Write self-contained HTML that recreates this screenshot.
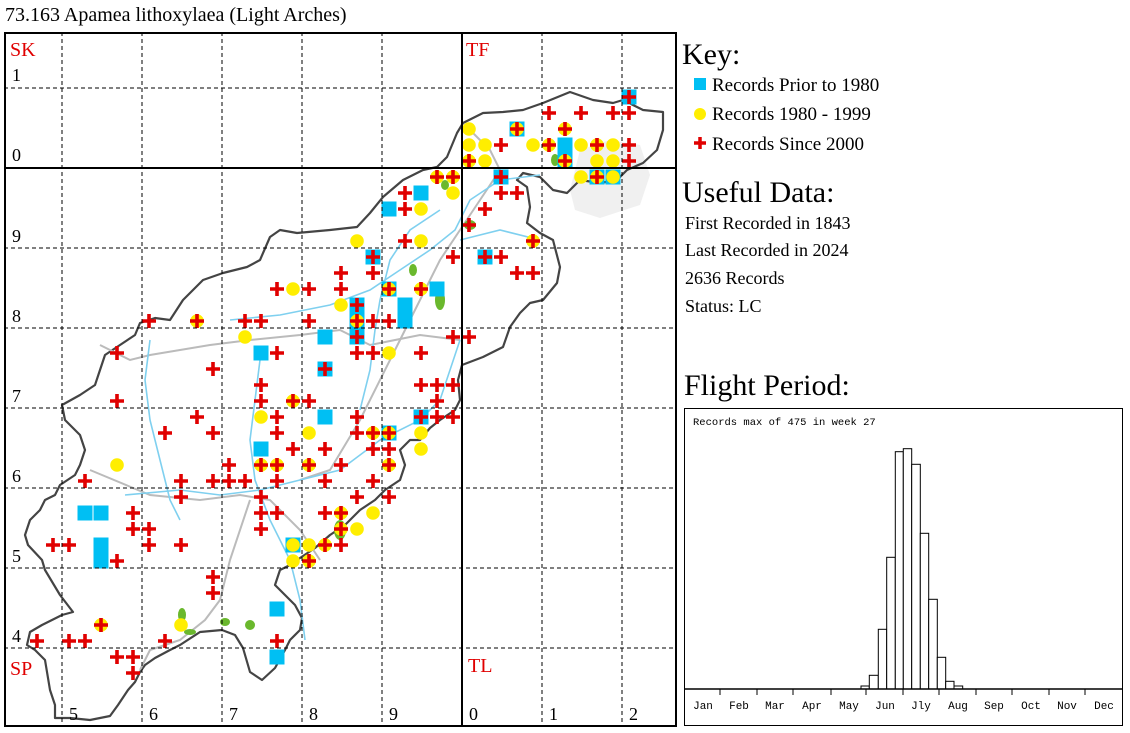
<!DOCTYPE html>
<html><head><meta charset="utf-8"><style>
html,body{margin:0;padding:0;background:#fff;}
svg{display:block;}
.s{font-family:"Liberation Serif",serif;}
.m{font-family:"Liberation Mono",monospace;}
</style></head><body>
<svg id="sv" width="1130" height="733" viewBox="0 0 1130 733" xmlns="http://www.w3.org/2000/svg">
<rect width="1130" height="733" fill="#fff"/>
<text x="5" y="21" class="s" font-size="20" fill="#000">73.163 Apamea lithoxylaea (Light Arches)</text>
<polygon fill="#f0f0f0" points="580,150 610,140 640,145 650,175 640,205 600,218 575,210 570,190"/>
<polygon fill="#fff" fill-opacity="0" stroke="#444" stroke-width="2.2" stroke-linejoin="round" points="28,545 42,560 45,570 60,595 73,612 62,615 42,625 30,632 27,645 35,650 45,660 50,690 55,705 55,718 70,718 90,720 110,716 118,705 128,690 135,682 140,672 145,665 155,658 170,650 180,645 200,632 222,630 235,635 243,648 250,672 262,680 275,668 285,650 290,640 300,630 302,618 295,605 285,595 275,585 280,570 290,565 300,558 315,548 330,535 345,525 360,510 375,500 385,490 400,480 405,465 400,450 410,440 420,440 430,428 440,420 455,410 460,400 458,380 462,365 483,357 503,347 510,327 520,313 530,303 543,300 557,283 560,267 553,240 540,233 527,223 530,207 527,187 517,180 523,173 540,177 553,190 567,193 580,180 600,183 617,180 627,170 643,163 657,150 663,130 663,112 643,110 623,100 613,103 593,100 570,92 543,103 523,110 503,112 483,113 463,123 457,133 447,157 437,167 423,170 403,180 383,197 370,213 357,227 330,230 297,233 280,230 270,237 260,260 247,267 223,273 203,280 183,300 170,320 155,318 140,323 135,335 120,345 105,355 100,370 95,385 80,395 62,405 65,420 80,435 85,450 80,465 75,475 60,485 55,495 45,500 40,510 30,520 25,535"/>
<g fill="none" stroke="#bbb" stroke-width="2">
<path d="M100,345 L130,360 150,355 210,345 250,340 300,335 340,330 370,345 420,335 460,340"/>
<path d="M90,470 L150,495 200,500 240,495 270,500 300,530 320,560"/>
<path d="M250,500 L230,560 220,600 205,620 180,640 150,650 140,670"/>
<path d="M470,130 L490,150 500,170 480,200 460,230 440,260 420,300 400,340 380,380 360,420 330,470 300,480"/>
</g>
<g fill="none" stroke="#7fd0ef" stroke-width="1.6">
<path d="M150,340 L145,380 150,420 160,460 170,500 180,520"/>
<path d="M125,495 L180,490 220,495 260,490 300,480 340,470 380,440 420,420 440,400 450,370 460,340"/>
<path d="M260,360 L255,400 250,440 255,480 270,520 290,560 300,600 305,640"/>
<path d="M230,320 L280,315 330,305 370,290 400,270 430,250 455,230 470,200 500,180 540,175"/>
<path d="M360,410 L370,370 375,330 380,300 390,260 410,230 440,210"/>
<path d="M460,240 L500,230 540,240"/>
</g>
<g fill="#6ab82d">
<ellipse cx="440" cy="300" rx="5" ry="10"/><ellipse cx="413" cy="270" rx="4" ry="6"/><ellipse cx="470" cy="225" rx="6" ry="5"/>
<ellipse cx="340" cy="530" rx="6" ry="10"/><ellipse cx="182" cy="615" rx="4" ry="7"/><ellipse cx="190" cy="632" rx="6" ry="3"/>
<ellipse cx="225" cy="622" rx="5" ry="4"/><ellipse cx="250" cy="625" rx="5" ry="5"/><ellipse cx="445" cy="185" rx="4" ry="5"/><ellipse cx="555" cy="160" rx="4" ry="6"/>
</g>
<g id="mk"></g>
<g stroke="#000" stroke-width="1" stroke-dasharray="4,3">
<line x1="62" y1="32" x2="62" y2="727"/><line x1="142" y1="32" x2="142" y2="727"/><line x1="222" y1="32" x2="222" y2="727"/><line x1="302" y1="32" x2="302" y2="727"/><line x1="382" y1="32" x2="382" y2="727"/><line x1="542" y1="32" x2="542" y2="727"/><line x1="622" y1="32" x2="622" y2="727"/>
<line x1="4" y1="88" x2="677" y2="88"/><line x1="4" y1="248" x2="677" y2="248"/><line x1="4" y1="328" x2="677" y2="328"/><line x1="4" y1="408" x2="677" y2="408"/><line x1="4" y1="488" x2="677" y2="488"/><line x1="4" y1="568" x2="677" y2="568"/><line x1="4" y1="648" x2="677" y2="648"/>
</g>
<line x1="462" y1="32" x2="462" y2="727" stroke="#000" stroke-width="2"/>
<line x1="4" y1="168" x2="677" y2="168" stroke="#000" stroke-width="2"/>
<rect x="5" y="33" width="671" height="693" fill="none" stroke="#000" stroke-width="2"/>
<g class="s" font-size="20" fill="#e00000">
<text x="10" y="56">SK</text><text x="466" y="56">TF</text><text x="10" y="675">SP</text><text x="468" y="672">TL</text>
</g>
<g class="s" font-size="18" fill="#000">
<text x="12" y="81">1</text><text x="12" y="161">0</text><text x="12" y="242">9</text><text x="12" y="322">8</text><text x="12" y="402">7</text><text x="12" y="482">6</text><text x="12" y="562">5</text><text x="12" y="642">4</text>
<text x="69" y="720">5</text><text x="149" y="720">6</text><text x="229" y="720">7</text><text x="309" y="720">8</text><text x="389" y="720">9</text><text x="469" y="720">0</text><text x="549" y="720">1</text><text x="629" y="720">2</text>
</g>
<g class="s" fill="#000">
<text x="682" y="64" font-size="30">Key:</text>
<rect x="694" y="78" width="12" height="12" fill="#00bff3"/>
<text x="712" y="91" font-size="19">Records Prior to 1980</text>
<circle cx="700" cy="114" r="6" fill="#ffee00"/>
<text x="712" y="120" font-size="19">Records 1980 - 1999</text>
<path d="M694,143 h12 M700,137 v12" stroke="#e00000" stroke-width="3.5"/>
<text x="712" y="150" font-size="19">Records Since 2000</text>
<text x="682" y="202" font-size="30">Useful Data:</text>
<text x="685" y="229" font-size="18">First Recorded in 1843</text>
<text x="685" y="256" font-size="18">Last Recorded in 2024</text>
<text x="685" y="284" font-size="18">2636 Records</text>
<text x="685" y="312" font-size="18">Status: LC</text>
<text x="684" y="395" font-size="30">Flight Period:</text>
</g>
<rect x="684.5" y="408.5" width="438" height="317" fill="#fff" stroke="#000" stroke-width="1"/>
<text x="693" y="425" class="m" font-size="10.5" fill="#000">Records max of 475 in week 27</text>
<g fill="#fff" stroke="#000" stroke-width="1">
<rect x="861" y="686" width="8.3" height="3"/>
<rect x="869.3" y="675.3" width="9" height="13.7"/>
<rect x="878.3" y="629.3" width="8.4" height="59.7"/>
<rect x="886.7" y="557.3" width="8.6" height="131.7"/>
<rect x="895.3" y="451.7" width="8" height="237.3"/>
<rect x="903.3" y="448.7" width="8.4" height="240.3"/>
<rect x="911.7" y="464.3" width="8.6" height="224.7"/>
<rect x="920.3" y="533.3" width="8.4" height="155.7"/>
<rect x="928.7" y="599.3" width="8.6" height="89.7"/>
<rect x="937.3" y="657.3" width="8.4" height="31.7"/>
<rect x="945.7" y="681.3" width="8.3" height="7.7"/>
<rect x="954" y="686" width="8.7" height="3"/>
</g>
<line x1="684" y1="689" x2="1123" y2="689" stroke="#000" stroke-width="1.5"/>
<g stroke="#000" stroke-width="1">
<line x1="720" y1="689" x2="720" y2="695"/><line x1="757" y1="689" x2="757" y2="695"/><line x1="793" y1="689" x2="793" y2="695"/><line x1="831" y1="689" x2="831" y2="695"/><line x1="866" y1="689" x2="866" y2="695"/><line x1="903" y1="689" x2="903" y2="695"/><line x1="939" y1="689" x2="939" y2="695"/><line x1="976" y1="689" x2="976" y2="695"/><line x1="1012" y1="689" x2="1012" y2="695"/><line x1="1049" y1="689" x2="1049" y2="695"/><line x1="1085" y1="689" x2="1085" y2="695"/>
</g>
<g class="m" font-size="11" fill="#000" text-anchor="middle">
<text x="703" y="709">Jan</text><text x="739" y="709">Feb</text><text x="775" y="709">Mar</text><text x="812" y="709">Apr</text><text x="849" y="709">May</text><text x="885" y="709">Jun</text><text x="921" y="709">Jly</text><text x="958" y="709">Aug</text><text x="994" y="709">Sep</text><text x="1031" y="709">Oct</text><text x="1067" y="709">Nov</text><text x="1104" y="709">Dec</text>
</g>
</svg>
<script>
var P=[[39,6,'bx'],[34,7,'x'],[36,7,'x'],[38,7,'x'],[39,7,'x'],
[29,8,'y'],[32,8,'byx'],[35,8,'yx'],
[29,9,'y'],[30,9,'y'],[31,9,'x'],[33,9,'y'],[34,9,'yx'],[36,9,'y'],[37,9,'yx'],[38,9,'y'],[39,9,'x'],
[29,10,'yx'],[30,10,'y'],[35,10,'yx'],[37,10,'y'],[38,10,'y'],[39,10,'x'],
[27,11,'yx'],[28,11,'yx'],[31,11,'bx'],[36,11,'y'],[37,11,'byx'],[38,11,'by'],
[25,12,'x'],[26,12,'b'],[28,12,'y'],[31,12,'x'],[32,12,'x'],
[24,13,'b'],[25,13,'x'],[26,13,'y'],[30,13,'x'],[29,14,'x'],
[22,15,'y'],[25,15,'x'],[26,15,'y'],[33,15,'yx'],
[23,16,'bx'],[28,16,'x'],[30,16,'bx'],[31,16,'x'],
[21,17,'x'],[23,17,'x'],[32,17,'x'],[33,17,'x'],
[17,18,'x'],[18,18,'y'],[19,18,'x'],[21,18,'x'],[24,18,'byx'],[26,18,'yx'],[27,18,'b'],
[21,19,'y'],[22,19,'x'],
[9,20,'x'],[12,20,'yx'],[15,20,'x'],[16,20,'x'],[19,20,'x'],[22,20,'yx'],[23,20,'x'],[24,20,'x'],
[15,21,'y'],[20,21,'b'],[22,21,'x'],[28,21,'x'],[29,21,'x'],
[7,22,'x'],[16,22,'b'],[17,22,'x'],[22,22,'x'],[23,22,'x'],[24,22,'y'],[26,22,'x'],
[13,23,'x'],[20,23,'bx'],
[16,24,'x'],[26,24,'x'],[27,24,'x'],[28,24,'x'],
[7,25,'x'],[16,25,'x'],[18,25,'yx'],[19,25,'x'],[27,25,'x'],
[12,26,'x'],[16,26,'y'],[17,26,'x'],[20,26,'b'],[22,26,'x'],[26,26,'bx'],[27,26,'x'],[28,26,'x'],
[10,27,'x'],[13,27,'x'],[17,27,'x'],[19,27,'y'],[22,27,'x'],[23,27,'yx'],[24,27,'byx'],[26,27,'y'],
[16,28,'b'],[18,28,'x'],[20,28,'x'],[23,28,'x'],[24,28,'x'],[26,28,'y'],
[7,29,'y'],[14,29,'x'],[16,29,'yx'],[17,29,'yx'],[19,29,'yx'],[21,29,'x'],[24,29,'yx'],
[5,30,'x'],[11,30,'x'],[13,30,'x'],[14,30,'x'],[15,30,'x'],[17,30,'x'],[20,30,'x'],[23,30,'x'],
[11,31,'x'],[16,31,'x'],[22,31,'x'],[24,31,'x'],
[5,32,'b'],[6,32,'b'],[8,32,'x'],[16,32,'x'],[17,32,'x'],[20,32,'x'],[21,32,'yx'],[23,32,'y'],
[8,33,'x'],[9,33,'x'],[16,33,'x'],[21,33,'yx'],[22,33,'y'],
[3,34,'x'],[4,34,'x'],[9,34,'x'],[11,34,'x'],[18,34,'by'],[19,34,'y'],[20,34,'yx'],[21,34,'x'],
[7,35,'x'],[18,35,'y'],[19,35,'yx'],
[13,36,'x'],[13,37,'x'],[17,38,'b'],[6,39,'yx'],[11,39,'y'],
[2,40,'x'],[4,40,'x'],[5,40,'x'],[10,40,'x'],[17,40,'x'],
[7,41,'x'],[8,41,'x'],[17,41,'b'],[8,42,'x']];
var T=[[35,9,2],[22,19,3],[25,19,2],[6,34,2]];
var g=document.getElementById('mk'),h='';
function X(c){return 5+16*c;}function Y(r){return 1+16*r;}
T.forEach(function(t){h+='<rect x="'+(X(t[0])-7.5)+'" y="'+(Y(t[1])-7.5)+'" width="15" height="'+(16*t[2]-1)+'" fill="#00bff3"/>';});
P.forEach(function(p){if(p[2].indexOf('b')>=0)h+='<rect x="'+(X(p[0])-7.5)+'" y="'+(Y(p[1])-7.5)+'" width="15" height="15" fill="#00bff3"/>';});
P.forEach(function(p){if(p[2].indexOf('y')>=0)h+='<circle cx="'+X(p[0])+'" cy="'+Y(p[1])+'" r="6.8" fill="#ffee00"/>';});
P.forEach(function(p){if(p[2].indexOf('x')>=0){var x=X(p[0]),y=Y(p[1]);h+='<path d="M'+(x-7)+','+y+'h14M'+x+','+(y-7)+'v14" stroke="#e00000" stroke-width="3.6"/>';}});
g.innerHTML=h;
</script>
</body></html>
